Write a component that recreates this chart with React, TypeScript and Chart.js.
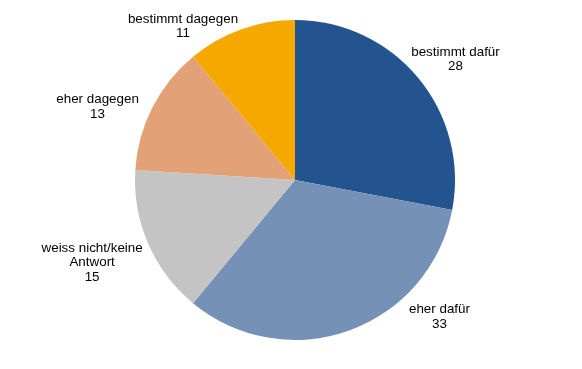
import React, { useEffect, useRef } from "react";
import { Chart, registerables } from "chart.js";

Chart.register(...registerables);

const categories = ["bestimmt dafür", "eher dafür", "weiss nicht/keine Antwort", "eher dagegen", "bestimmt dagegen"];
const labelLines = [["bestimmt dafür"], ["eher dafür"], ["weiss nicht/keine", "Antwort"], ["eher dagegen"], ["bestimmt dagegen"]];
const values = [28, 33, 15, 13, 11];
const colors = ["#23548F", "#7591B6", "#C4C4C4", "#E3A178", "#F5A800"];
// label block centres relative to pie centre, in units of radius
const labelOffsets = [
  [1.003, -0.755],
  [0.903, 0.855],
  [-1.268, 0.517],
  [-1.234, -0.458],
  [-0.7, -0.96],
];

const labelPlugin = {
  id: "outerLabels",
  afterDatasetsDraw(chart: any) {
    const ctx = chart.ctx;
    const meta = chart.getDatasetMeta(0);
    const arc0 = meta.data[0];
    const cx = arc0.x;
    const cy = arc0.y;
    const r = arc0.outerRadius;
    ctx.save();
    ctx.font = "13.4px 'Liberation Sans', Arial, sans-serif";
    ctx.fillStyle = "#000";
    ctx.textAlign = "center";
    ctx.textBaseline = "middle";
    const lh = 14.7;
    meta.data.forEach((_: any, i: number) => {
      const lines = [...labelLines[i], String(values[i])];
      const bx = cx + labelOffsets[i][0] * r;
      const by = cy + labelOffsets[i][1] * r;
      const top = by - ((lines.length - 1) * lh) / 2;
      lines.forEach((t, j) => ctx.fillText(t, bx, top + j * lh));
    });
    ctx.restore();
  },
};

export default function App() {
  const ref = useRef<HTMLCanvasElement>(null);
  useEffect(() => {
    document.body.style.margin = "0";
    const chart = new Chart(ref.current!, {
      type: "pie",
      data: {
        labels: categories,
        datasets: [
          {
            data: values,
            backgroundColor: colors,
            borderWidth: 0,
          },
        ],
      },
      options: {
        responsive: false,
        animation: false,
        layout: { padding: { left: 9, right: 1, top: 20, bottom: 29 } },
        plugins: { legend: { display: false }, tooltip: { enabled: false } },
      },
      plugins: [labelPlugin],
    });
    return () => chart.destroy();
  }, []);
  return (
    <div style={{ width: 582, height: 369, background: "#fff" }}>
      <canvas ref={ref} width={582} height={369} />
    </div>
  );
}
